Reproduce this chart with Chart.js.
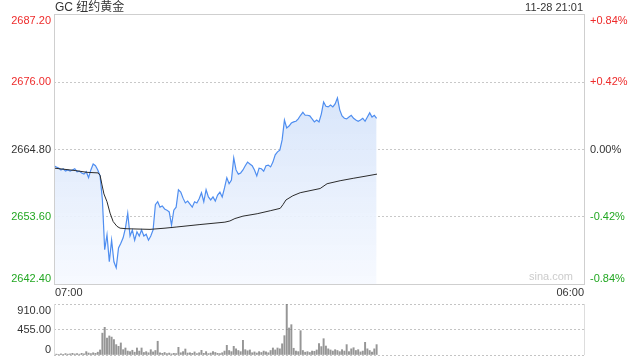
<!DOCTYPE html>
<html>
<head>
<meta charset="utf-8">
<script src="https://cdn.jsdelivr.net/npm/chart.js@4.4.1/dist/chart.umd.min.js"></script>
<style>
  html, body { margin: 0; padding: 0; background: #fff; }
  #wrap { position: relative; width: 640px; height: 360px; }
  canvas { position: absolute; left: 0; }
  #priceChart { top: 0; }
  #volChart { top: 300px; }
</style>
</head>
<body>
<div id="wrap">
  <canvas id="priceChart" width="640" height="300"></canvas>
  <canvas id="volChart" width="640" height="60"></canvas>
</div>
<script>
const title = "GC 纽约黄金";
const stamp = "11-28 21:01";
const prevClose = 2664.80;
const priceTicks = [2642.40, 2653.60, 2664.80, 2676.00, 2687.20];
const volTicks = [0, 455, 910];
const timeLabels = ["07:00", "06:00"];
const sessionMinutes = 1380;   // 07:00 -> 06:00
const stepMinutes = 6;          // one sample every 6 minutes

// last price, every 6 minutes from 07:00
const prices = [
  2662.1, 2661.9, 2661.7, 2661.4, 2661.6, 2661.2, 2661.4, 2661.2, 2661.4, 2661.6,
  2661.1, 2661.2, 2660.9, 2660.7, 2661.1, 2660.1, 2661.4, 2662.4, 2662.1, 2661.4,
  2660.4, 2656.4, 2648.1, 2650.6, 2646.1, 2649.7, 2646.1, 2645.1, 2648.4, 2649.2,
  2650.1, 2651.7, 2654.2, 2650.4, 2651.4, 2649.7, 2651.1, 2650.4, 2651.4, 2650.4,
  2650.7, 2649.7, 2650.4, 2651.4, 2655.6, 2656.1, 2655.2, 2655.4, 2654.9, 2654.7,
  2654.4, 2652.2, 2654.7, 2655.2, 2658.1, 2657.7, 2656.7, 2655.9, 2656.2, 2655.7,
  2655.2, 2656.1, 2655.9, 2656.6, 2657.6, 2656.1, 2658.1, 2656.9, 2656.4, 2656.9,
  2656.2, 2657.2, 2657.7, 2656.9, 2658.4, 2660.1, 2659.1, 2659.7, 2663.4, 2661.4,
  2660.7, 2660.9, 2661.4, 2662.1, 2662.7, 2662.4, 2662.1, 2661.4, 2660.4, 2661.7,
  2661.6, 2661.2, 2662.1, 2662.2, 2661.9, 2662.7, 2663.9, 2664.4, 2664.7, 2666.4,
  2669.7, 2668.4, 2668.7, 2669.2, 2669.4, 2669.5, 2669.9, 2670.5, 2671.0, 2670.5,
  2670.5, 2670.4, 2669.9, 2669.4, 2669.7, 2669.4, 2670.7, 2672.7, 2672.0, 2671.9,
  2672.2, 2671.9, 2672.4, 2673.4, 2671.4, 2670.4, 2670.0, 2669.9, 2670.2, 2670.5,
  2670.0, 2669.7, 2669.5, 2669.7, 2670.0, 2669.5, 2670.2, 2670.9, 2670.2, 2670.5,
  2670.0
];

// average price line (minutes after 07:00, value)
const avgTimes = [0, 55, 86, 115, 120, 125, 130, 138, 146, 154, 164, 172, 190, 250, 289, 320,
  380, 445, 458, 471, 492, 529, 563, 589, 596, 604, 622, 641, 693, 711, 745, 779, 815, 841];
const avgValues = [2661.7, 2661.3, 2661.0, 2660.9, 2660.5, 2658.9, 2657.4, 2656.1, 2654.2, 2652.8,
  2652.0, 2651.7, 2651.6, 2651.5, 2651.7, 2651.9, 2652.3, 2652.7, 2652.9, 2653.3, 2653.7, 2654.1,
  2654.6, 2655.0, 2655.6, 2656.4, 2657.1, 2657.6, 2658.3, 2659.1, 2659.6, 2660.0, 2660.4, 2660.7];

// volume, same 6-minute samples
const volumes = [
  10, 15, 8, 20, 12, 25, 15, 20, 30, 18,
  25, 15, 30, 20, 60, 35, 25, 40, 30, 50,
  90, 390, 494, 300, 340, 320, 275, 185, 155, 215,
  95, 125, 70, 60, 85, 50, 125, 70, 125, 45,
  60, 40, 95, 55, 80, 245, 40, 30, 45, 25,
  35, 20, 30, 25, 137, 40, 60, 107, 35, 40,
  30, 55, 25, 40, 83, 30, 60, 25, 35, 60,
  45, 30, 25, 40, 70, 173, 80, 60, 155, 110,
  80, 60, 262, 95, 75, 90, 40, 55, 35, 60,
  45, 70, 55, 40, 80, 125, 90, 125, 110, 200,
  345, 910, 482, 541, 120, 70, 60, 434, 80, 50,
  60, 45, 70, 65, 90, 202, 150, 291, 160, 110,
  90, 70, 95, 80, 60, 95, 70, 185, 60, 110,
  130, 80, 95, 55, 70, 226, 110, 80, 50, 110,
  185
];

const FONT = '"Liberation Sans", Arial, "Noto Sans CJK SC", sans-serif';
const RED = '#ee2b2b';
const GREEN = '#22a722';
const DARK = '#333';

function tickColor(v) {
  const d = Math.round((v - prevClose) * 100);
  return d > 0 ? RED : d < 0 ? GREEN : DARK;
}
function pctLabel(v) {
  const p = (v - prevClose) / prevClose * 100;
  const s = p.toFixed(2);
  return (Math.abs(p) < 0.005 ? '0.00' : (p > 0 ? '+' + s : s)) + '%';
}

const priceFrame = {
  id: 'priceFrame',
  afterDraw(chart) {
    const { ctx, chartArea: a, scales } = chart;
    ctx.save();
    ctx.strokeStyle = '#cfcfcf';
    ctx.lineWidth = 1;
    ctx.strokeRect(a.left + 0.5, a.top - 0.5, a.right - a.left, a.bottom - a.top + 1);

    ctx.font = '11px ' + FONT;
    const last = priceTicks.length - 1;
    priceTicks.forEach((v, i) => {
      const py = scales.y.getPixelForValue(v);
      ctx.textBaseline = i === 0 ? 'bottom' : (i === last ? 'top' : 'middle');
      ctx.fillStyle = tickColor(v);
      ctx.textAlign = 'right';
      ctx.fillText(v.toFixed(2), a.left - 3, py);
      ctx.textAlign = 'left';
      ctx.fillText(pctLabel(v), a.right + 6, py);
    });

    ctx.fillStyle = DARK;
    ctx.textBaseline = 'middle';
    ctx.textAlign = 'left';
    ctx.fillText(timeLabels[0], a.left + 1, a.bottom + 9);
    ctx.textAlign = 'right';
    ctx.fillText(timeLabels[1], a.right, a.bottom + 9);
    ctx.fillText(stamp, a.right - 1, 8);
    ctx.font = '12px ' + FONT;
    ctx.textAlign = 'left';
    ctx.fillText(title, a.left + 1, 8);

    ctx.font = '11px ' + FONT;
    ctx.fillStyle = '#cccccc';
    ctx.textAlign = 'right';
    ctx.fillText('sina.com', a.right - 11, a.bottom - 7);
    ctx.restore();
  }
};

const volFrame = {
  id: 'volFrame',
  afterDraw(chart) {
    const { ctx, chartArea: a, scales } = chart;
    ctx.save();
    ctx.strokeStyle = '#dddddd';
    ctx.lineWidth = 1;
    ctx.beginPath();
    ctx.moveTo(a.left + 0.5, a.top);
    ctx.lineTo(a.left + 0.5, a.bottom);
    ctx.moveTo(a.right + 0.5, a.top);
    ctx.lineTo(a.right + 0.5, a.bottom);
    ctx.stroke();
    ctx.font = '11px ' + FONT;
    ctx.fillStyle = DARK;
    ctx.textAlign = 'right';
    const last = volTicks.length - 1;
    volTicks.forEach((v, i) => {
      const py = scales.y.getPixelForValue(v);
      ctx.textBaseline = i === 0 ? 'bottom' : (i === last ? 'top' : 'middle');
      ctx.fillText(v === 0 ? '0' : v.toFixed(2), a.left - 3, i === last ? py + 1 : py);
    });
    ctx.restore();
  }
};

function fillGradient(context) {
  const { ctx, chartArea } = context.chart;
  if (!chartArea) return 'rgba(200,220,250,0.4)';
  const g = ctx.createLinearGradient(0, chartArea.top + 80, 0, chartArea.bottom);
  g.addColorStop(0, 'rgba(214,228,250,0.95)');
  g.addColorStop(1, 'rgba(246,249,255,0.9)');
  return g;
}

new Chart(document.getElementById('priceChart'), {
  type: 'line',
  data: {
    datasets: [
      {
        label: 'avg',
        data: avgTimes.map((t, i) => ({ x: t, y: avgValues[i] })),
        borderColor: '#2b2b2b',
        borderWidth: 1,
        pointRadius: 0,
        fill: false,
        order: 0
      },
      {
        label: 'price',
        data: prices.map((p, i) => ({ x: i * stepMinutes, y: p })),
        borderColor: '#4f8ef0',
        borderWidth: 1.2,
        pointRadius: 0,
        fill: 'start',
        backgroundColor: fillGradient,
        order: 1
      }
    ]
  },
  options: {
    responsive: false,
    animation: false,
    devicePixelRatio: 1,
    layout: { padding: { left: 54, right: 56, top: 15, bottom: 16 } },
    plugins: { legend: { display: false }, tooltip: { enabled: false } },
    scales: {
      x: { type: 'linear', min: 0, max: sessionMinutes, display: false },
      y: {
        min: priceTicks[0],
        max: priceTicks[priceTicks.length - 1],
        afterBuildTicks: s => { s.ticks = priceTicks.map(v => ({ value: v })); },
        afterFit: s => { s.width = 0; },
        ticks: { display: false },
        border: { display: false, dash: [2, 2] },
        grid: {
          drawTicks: false,
          color: c => (c.index === 0 || c.index === priceTicks.length - 1) ? 'rgba(0,0,0,0)' : '#c8c8c8'
        }
      }
    }
  },
  plugins: [priceFrame]
});

new Chart(document.getElementById('volChart'), {
  type: 'bar',
  data: {
    datasets: [{
      data: volumes.map((v, i) => ({ x: i * stepMinutes, y: v })),
      backgroundColor: 'rgba(115,115,115,0.75)',
      barThickness: 1.3
    }]
  },
  options: {
    responsive: false,
    animation: false,
    devicePixelRatio: 1,
    layout: { padding: { left: 54, right: 56, top: 4, bottom: 5 } },
    plugins: { legend: { display: false }, tooltip: { enabled: false } },
    scales: {
      x: { type: 'linear', min: 0, max: sessionMinutes, display: false, offset: false },
      y: {
        min: volTicks[0],
        max: volTicks[volTicks.length - 1],
        afterBuildTicks: s => { s.ticks = volTicks.map(v => ({ value: v })); },
        afterFit: s => { s.width = 0; },
        ticks: { display: false },
        border: { display: false, dash: [2, 2] },
        grid: { drawTicks: false, color: '#c4c4c4' }
      }
    }
  },
  plugins: [volFrame]
});
</script>
</body>
</html>
